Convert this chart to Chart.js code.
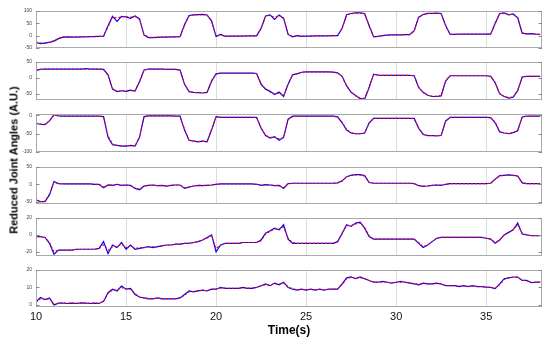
<!DOCTYPE html>
<html><head><meta charset="utf-8">
<script src="https://cdn.jsdelivr.net/npm/chart.js@4.4.1/dist/chart.umd.min.js"></script>
<style>
html,body{margin:0;padding:0;background:#fff;}
#wrap{position:relative;width:550px;height:342px;overflow:hidden;background:#fff;}
canvas{position:absolute;left:0;top:0;}
.t{position:absolute;font-family:"Liberation Sans",Arial,sans-serif;font-weight:bold;color:#000;white-space:nowrap;line-height:1;}
</style></head><body>
<div id="wrap">
<canvas id="c0" width="550" height="342"></canvas>
<canvas id="c1" width="550" height="342"></canvas>
<canvas id="c2" width="550" height="342"></canvas>
<canvas id="c3" width="550" height="342"></canvas>
<canvas id="c4" width="550" height="342"></canvas>
<canvas id="c5" width="550" height="342"></canvas>
<div class="t" style="left:289px;top:330px;font-size:12px;transform:translate(-50%,-50%);">Time(s)</div>
<div class="t" style="left:14px;top:160px;font-size:11px;transform:translate(-50%,-50%) rotate(-90deg);">Reduced Joint Angles (A.U.)</div>
</div>
<script>
// sampling grid (s): 10.00 .. 38.00 every 0.25 s
const time = Array.from({length:113},(_,i)=>10+i*0.25);
const xTicks = [10,15,20,25,30,35];

const p1Ticks = [-50,0,50,100];
const p1Blue = [
-27,-32,-30,-27, -22,-12,-6,-5, -6,-6,-5,-5, -4,-4,-3,-2,
40,78,58,78, 76,70,80,68, 2,-8,-8,-7, -6,-6,-5,-5,
-4,45,82,84, 85,86,84,60, -3,5,-3,-2, -2,-2,-2,-1,
-1,-1,30,80, 84,66,84,70, 5,-5,0,-3, -2,-2,-1,-1,
-1,-1,0,0, 30,85,90,92, 92,90,40,-5, -3,0,2,3,
3,3,4,4, 20,75,86,90, 90,91,90,40, 5,5,6,6,
6,6,6,6, 6,6,50,90, 92,84,88,72, 10,7,8,6, 5];
const p1Red = [
-26,-30,-29,-26, -20,-11,-6,-5, -5,-5,-5,-4, -4,-3,-3,-2,
35,76,72,77, 77,75,78,66, 4,-6,-7,-6, -6,-5,-5,-5,
-4,42,80,84, 85,85,84,58, -2,2,-2,-2, -2,-1,-1,-1,
-1,-1,28,78, 82,74,82,72, 6,-3,-1,-2, -2,-1,-1,-1,
-1,0,0,0, 28,84,89,91, 91,89,42,-3, -2,1,2,3,
3,3,4,4, 18,73,85,89, 90,90,89,42, 6,5,6,6,
6,6,6,6, 6,7,48,88, 90,86,86,74, 11,7,7,6, 5];

const p2Ticks = [-50,0,50];
const p2Blue = [
24,27,28,28, 28,28,28,28, 28,28,28,29, 28,28,28,27,
10,-35,-43,-40, -42,-38,-41,-12, 25,28,28,28, 28,27,27,27,
25,-20,-43,-45, -46,-47,-45,-10, 13,15,15,15, 15,15,15,15,
15,14,-20,-35, -42,-52,-44,-58, -20,10,13,18, 19,19,19,19,
19,19,18,16, 5,-25,-45,-55, -65,-66,-30,12, 9,8,8,8,
8,8,8,8, 7,-30,-45,-54, -58,-58,-56,-10, 7,7,7,7,
7,7,7,7, 7,5,-15,-50, -58,-63,-60,-40, 3,5,5,5, 5];
const p2Red = [
25,27,28,28, 28,28,28,28, 28,28,28,28, 28,28,28,27,
8,-33,-41,-41, -41,-40,-40,-10, 24,28,28,28, 28,27,27,27,
24,-18,-42,-45, -46,-46,-45,-8, 12,15,15,15, 15,15,15,15,
15,14,-18,-34, -44,-50,-48,-55, -18,9,14,18, 19,19,19,19,
19,19,18,16, 4,-24,-44,-56, -63,-64,-28,11, 9,8,8,8,
8,8,8,8, 7,-28,-46,-54, -57,-57,-55,-8, 7,7,7,7,
7,7,7,7, 7,5,-14,-48, -58,-61,-60,-38, 3,5,5,5, 5];

const p3Ticks = [-100,-50,0];
const p3Blue = [
-22,-24,-25,-15, 2,-1,-2,-2, -2,-2,-2,-2, -2,-2,-2,-3,
-60,-80,-82,-84, -84,-82,-84,-60, -3,-1,-1,-1, -1,-1,-1,-2,
-2,-40,-68,-70, -72,-70,-72,-40, -3,-5,-5,-5, -5,-5,-5,-5,
-5,-5,-35,-55, -62,-58,-68,-60, -10,-2,-2,-2, -2,-2,-2,-2,
-2,-2,-2,-4, -20,-40,-48,-50, -50,-48,-20,-8, -8,-8,-8,-8,
-8,-8,-8,-8, -8,-35,-52,-55, -55,-56,-55,-15, -5,-5,-5,-5,
-5,-5,-5,-5, -5,-6,-20,-45, -48,-50,-47,-42, -4,-2,-2,-2, -2];
const p3Red = [
-21,-23,-24,-14, 1,-1,-2,-2, -2,-2,-2,-2, -2,-2,-2,-4,
-55,-78,-82,-83, -83,-83,-83,-58, -4,-1,-1,-1, -1,-1,-1,-2,
-3,-38,-67,-70, -71,-71,-71,-38, -4,-5,-5,-5, -5,-5,-5,-5,
-5,-6,-33,-54, -60,-60,-64,-60, -12,-3,-2,-2, -2,-2,-2,-2,
-2,-2,-2,-5, -18,-38,-47,-50, -50,-48,-22,-8, -8,-8,-8,-8,
-8,-8,-8,-8, -9,-33,-51,-55, -55,-55,-54,-16, -5,-5,-5,-5,
-5,-5,-5,-5, -5,-6,-18,-43, -48,-49,-47,-40, -5,-2,-2,-2, -2];

const p4Ticks = [-50,0,50];
const p4Blue = [
-45,-50,-50,-30, 8,2,1,1, 1,1,1,1, 1,0,0,-10,
-2,-3,0,-3, -2,-3,-12,-16, -5,-3,-2,-4, -3,-5,-3,-2,
-2,-12,-8,-5, -3,-4,-3,-2, 0,1,1,1, 1,1,1,1,
1,0,-3,-1, -2,-4,-3,-12, 2,3,3,3, 3,3,3,3,
3,3,3,4, 10,22,26,28, 28,25,5,3, 3,3,3,3,
3,3,3,3, 2,-4,-6,-5, -3,-2,-3,0, 2,2,2,2,
2,2,2,2, 2,3,15,25, 26,27,26,24, 4,2,2,2, 2];
const p4Red = [
-46,-50,-49,-28, 6,2,1,1, 1,1,1,1, 1,0,0,-8,
-3,-2,-1,-3, -2,-4,-11,-14, -5,-3,-3,-4, -4,-4,-3,-2,
-2,-10,-8,-5, -3,-3,-3,-2, 0,1,1,1, 1,1,1,1,
1,0,-2,-2, -2,-3,-4,-10, 1,3,3,3, 3,3,3,3,
3,3,3,4, 9,21,26,27, 27,24,6,3, 3,3,3,3,
3,3,3,3, 2,-3,-5,-5, -3,-2,-2,0, 2,2,2,2,
2,2,2,2, 2,3,14,24, 26,26,26,23, 5,2,2,2, 2];

const p5Ticks = [-20,0,20];
const p5Blue = [
-2,-2,-3,-10, -23,-18,-18,-18, -18,-17,-17,-17, -17,-17,-16,-8,
-22,-12,-15,-9, -17,-12,-17,-16, -15,-14,-15,-14, -13,-12,-12,-11,
-11,-10,-10,-9, -8,-6,-3,0, -20,-12,-10,-10, -10,-10,-9,-9,
-9,-9,-6,2, 5,8,6,12, -5,-10,-10,-10, -10,-10,-10,-10,
-10,-10,-10,-8, 2,12,10,14, 15,8,-2,-5, -5,-5,-5,-5,
-5,-5,-5,-5, -5,-10,-15,-12, -8,-4,-3,-3, -3,-3,-3,-3,
-3,-3,-3,-3, -4,-5,-10,-6, 0,3,6,14, 1,0,-1,-1, -1];
const p5Red = [
-2,-2,-3,-9, -20,-18,-18,-18, -18,-17,-17,-17, -17,-17,-16,-12,
-18,-14,-14,-11, -15,-13,-16,-15, -15,-14,-14,-14, -13,-12,-12,-11,
-11,-10,-10,-9, -8,-6,-4,-1, -16,-12,-10,-10, -10,-10,-9,-9,
-9,-9,-7,1, 4,7,7,9, -4,-9,-10,-10, -10,-10,-10,-10,
-10,-10,-10,-8, 1,11,11,13, 14,9,-1,-5, -5,-5,-5,-5,
-5,-5,-5,-5, -5,-9,-14,-12, -8,-4,-3,-3, -3,-3,-3,-3,
-3,-3,-3,-3, -4,-5,-9,-6, 0,3,6,12, 2,0,-1,-1, -1];

const p6Ticks = [0,10,20];
const p6Blue = [
1.7,4.2,3,4, 0,1,1,0.8, 1,0.8,1.2,1, 0.8,1,0.8,2,
7,9,8,10.8, 9,9.5,6,4.5, 4,3.5,3.5,4, 3.5,3.5,3.5,3.5,
4,6,8,7.5, 8,8.5,8,9, 9,10,9.5,9.5, 9.5,9.5,10,9.5,
9.5,10,11,12, 11,12.5,11.5,13, 10,9,8.5,9, 8.5,9,8.5,9,
8.5,9,9,9, 12,15.5,16,15, 16,15,14,13, 13,13.5,13,12.5,
13,13.5,13,12.5, 12,11.5,12.5,12, 12,12.5,12,11, 11,11,10.5,11,
10.5,11,10.5,10.5, 10.2,10,9.3,12, 15,15.5,16,16, 14,14,12.7,13, 13];
const p6Red = [
1.5,3.5,3.2,3.5, 0.5,1,1,1, 1,1,1,1, 1,1,1,2,
6.5,8.5,8.5,10, 9,9,6.5,4.5, 4,3.8,3.6,3.8, 3.6,3.6,3.6,3.6,
4,5.5,7.5,7.8, 8,8.3,8.2,8.8, 9.2,9.6,9.6,9.5, 9.5,9.6,9.8,9.6,
9.7,10,11,11.5, 11.5,12,12,12.5, 10.5,9.2,8.8,8.8, 8.8,8.8,8.8,8.8,
8.8,8.8,9,9.2, 11.5,15,15.8,15.5, 15.5,15,14,13.2, 13,13.2,13,12.8,
12.8,13,13,12.8, 12.2,11.8,12.2,12, 12,12.2,12,11.2, 11,11,10.8,10.8,
10.7,10.8,10.6,10.5, 10.3,10,9.6,11.5, 14.5,15.5,15.8,15.8, 14.2,13.8,13,13, 13];

const panels = [
 {blue:p1Blue, red:p1Red, ticks:p1Ticks, min:-50, max:100},
 {blue:p2Blue, red:p2Red, ticks:p2Ticks, min:-69, max:50},
 {blue:p3Blue, red:p3Red, ticks:p3Ticks, min:-100, max:4},
 {blue:p4Blue, red:p4Red, ticks:p4Ticks, min:-57, max:50},
 {blue:p5Blue, red:p5Red, ticks:p5Ticks, min:-25, max:20},
 {blue:p6Blue, red:p6Red, ticks:p6Ticks, min:-1.2, max:20}
];
// plot-area placement (px)
const layoutTop = [11,62,114,167,218,270];
const layoutBottom = [48,100,152,204,256,307];
const xAxisBand = 20;

const boxPlugin = {
  id:'box',
  afterDraw(chart){
    const {ctx, chartArea:a} = chart;
    const y = chart.scales.y;
    ctx.save();
    ctx.strokeStyle = '#a9a9a9';
    ctx.lineWidth = 1;
    ctx.strokeRect(Math.round(a.left)+0.5, Math.round(a.top)+0.5, Math.round(a.right-a.left)-1, Math.round(a.bottom-a.top)-1);
    ctx.strokeStyle = '#8a8a8a';
    ctx.beginPath();
    y.ticks.forEach(t=>{
      const py = Math.round(y.getPixelForValue(t.value))+0.5;
      ctx.moveTo(a.left, py); ctx.lineTo(a.left+3.5, py);
      ctx.moveTo(a.right, py); ctx.lineTo(a.right-3.5, py);
    });
    ctx.stroke();
    ctx.restore();
  }
};

const toXY = arr => arr.map((v,i)=>({x:time[i], y:v}));

panels.forEach((p,k)=>{
  const isLast = k === panels.length-1;
  const band = isLast ? xAxisBand : 0;
  new Chart(document.getElementById('c'+k), {
    type:'line',
    data:{datasets:[
      {label:'red', data:toXY(p.red), borderColor:'#ff0000', borderWidth:1.1, borderDash:[2,2], pointRadius:0, tension:0, order:0},
      {label:'blue', data:toXY(p.blue), borderColor:'#0000ff', borderWidth:1.2, pointRadius:0, tension:0, order:1}
    ]},
    options:{
      responsive:false, animation:false, devicePixelRatio:1,
      layout:{padding:{left:0, right:8, top:layoutTop[k], bottom:342-layoutBottom[k]-band}},
      plugins:{legend:{display:false}, tooltip:{enabled:false}},
      scales:{
        x:{type:'linear', min:10, max:38.1,
           afterBuildTicks:s=>{s.ticks = xTicks.map(v=>({value:v}));},
           afterFit:s=>{s.height = band;},
           grid:{color:'#dcdcdc', lineWidth:1, drawTicks:false},
           border:{display:false},
           ticks:{display:isLast, padding:3, color:'#111', maxRotation:0, autoSkip:false, font:{family:'"Liberation Sans", Arial, sans-serif', size:11}}},
        y:{type:'linear', min:p.min, max:p.max,
           afterBuildTicks:s=>{s.ticks = p.ticks.map(v=>({value:v}));},
           afterFit:s=>{s.width = 36;},
           grid:{display:false, drawTicks:false},
           border:{display:false},
           ticks:{padding:4, color:'#444', font:{family:'"Liberation Sans", Arial, sans-serif', size:5}}}
      }
    },
    plugins:[boxPlugin]
  });
});
</script>
</body></html>
